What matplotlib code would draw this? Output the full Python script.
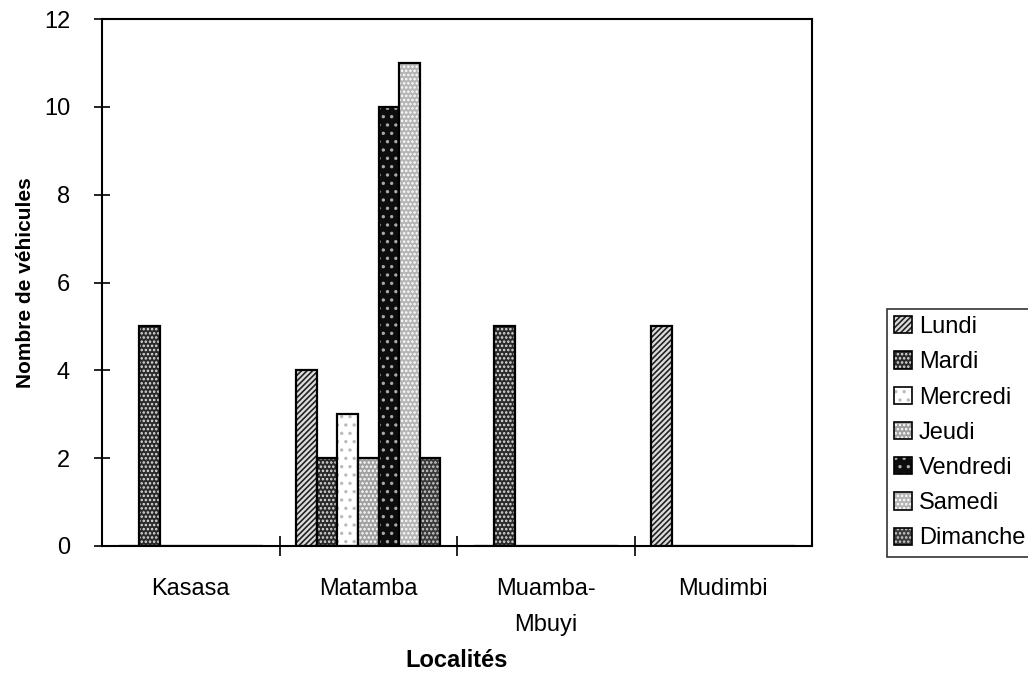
import numpy as np
import matplotlib
matplotlib.use("Agg")
import matplotlib.pyplot as plt
from matplotlib.patches import Patch

plt.rcParams['font.family'] = ['Liberation Sans', 'DejaVu Sans']
plt.rcParams['hatch.linewidth'] = 1.2

# data
localites = ["Kasasa", "Matamba", "Muamba-\nMbuyi", "Mudimbi"]
jours = ["Lundi", "Mardi", "Mercredi", "Jeudi", "Vendredi", "Samedi", "Dimanche"]
lundi = [0, 4, 0, 5]
mardi = [5, 2, 5, 0]
mercredi = [0, 3, 0, 0]
jeudi = [0, 2, 0, 0]
vendredi = [0, 10, 0, 0]
samedi = [0, 11, 0, 0]
dimanche = [0, 2, 0, 0]
series = [lundi, mardi, mercredi, jeudi, vendredi, samedi, dimanche]

# (face colour, hatch, hatch colour) imitating the old b/w patterns
styles = [
    ("#dddddd", "//////", "#222222"),
    ("#2a2a2a", "....", "#e0e0e0"),
    ("white", "..", "#bbbbbb"),
    ("#a0a0a0", "....", "white"),
    ("#0d0d0d", "..", "#aaaaaa"),
    ("#b5b5b5", "....", "white"),
    ("#3a3a3a", "....", "#d0d0d0"),
]

fig = plt.figure(figsize=(10.28, 6.79), dpi=100)
ax = fig.add_axes([102/1028, 1 - 546/679, (812-102)/1028, (546-19)/679])

x = np.arange(len(localites))
w = 0.1155
handles = []
for i, vals in enumerate(series):
    fc, h, hc = styles[i]
    pos = x + (i - 3) * w
    ax.bar(pos, vals, w, color=fc, hatch=h, edgecolor=hc, linewidth=0)
    ax.bar(pos, vals, w, fill=False, edgecolor="black", linewidth=1.6)
    handles.append((Patch(facecolor=fc, hatch=h, edgecolor=hc, linewidth=0),
                    Patch(fill=False, edgecolor="black", linewidth=1.2)))

ax.set_xlim(-0.5, 3.5)
ax.set_ylim(0, 12)
ax.set_yticks(range(0, 13, 2))
ax.set_xticks(x)
ax.set_xticklabels(localites, fontsize=17, linespacing=1.8, va="top")
ax.set_xticks([0.5, 1.5, 2.5], minor=True)
ax.tick_params(axis="x", which="major", length=0, pad=23)
ax.tick_params(axis="x", which="minor", direction="inout", length=14, width=1.2)
ax.tick_params(axis="y", direction="inout", length=12, width=1.2, labelsize=17, pad=17)
for s in ax.spines.values():
    s.set_linewidth(1.5)

ax.set_ylabel("Nombre de véhicules", fontsize=15, fontweight="bold", labelpad=6)
ax.set_xlabel("Localités", fontsize=17, fontweight="bold", labelpad=10)

leg = fig.legend(handles, jours, loc="upper left",
                 bbox_to_anchor=(887/1028, 1 - 309/679),
                 fontsize=17, frameon=True, fancybox=False, edgecolor="black",
                 handlelength=0.75, handleheight=0.75, handletextpad=0.3,
                 labelspacing=0.56, borderpad=0.3, borderaxespad=0)
leg.get_frame().set_linewidth(1.2)

fig.savefig("out.png", dpi=100)
